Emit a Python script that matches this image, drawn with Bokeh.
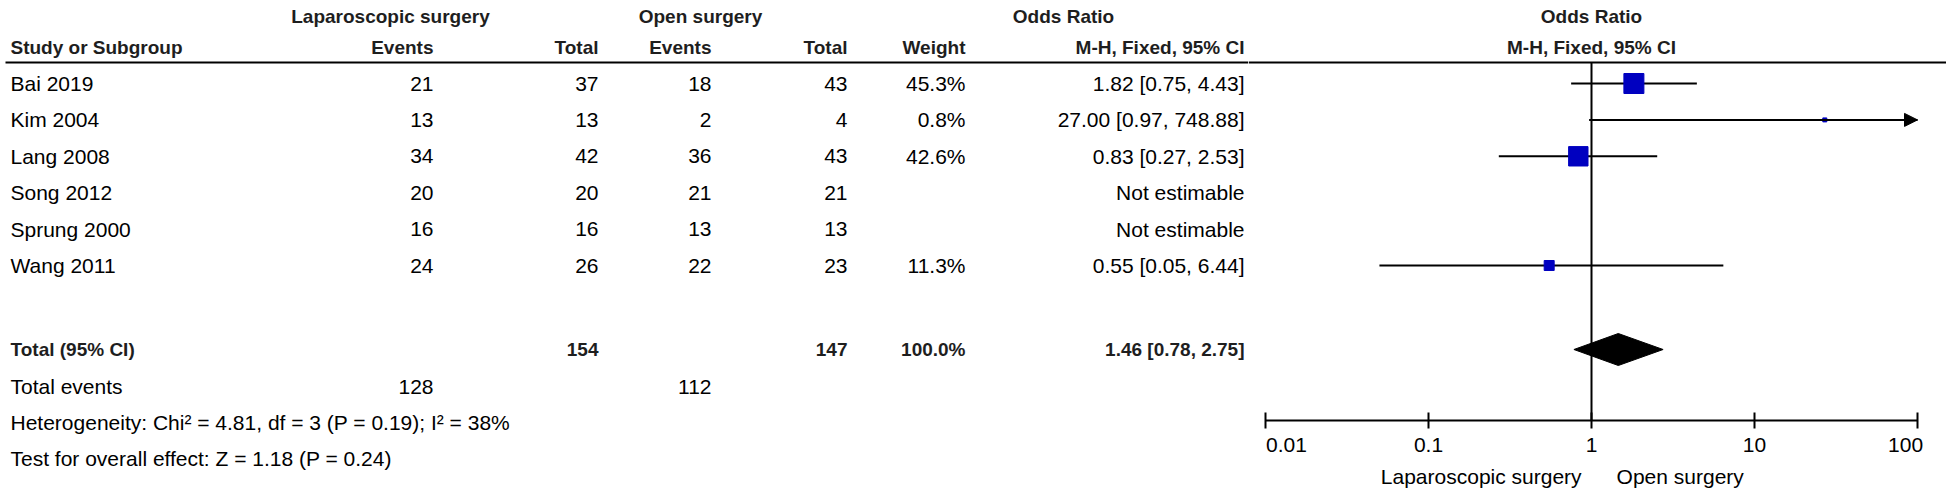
from bokeh.plotting import figure
from bokeh.layouts import row
from bokeh.models import Range1d, FixedTicker, Arrow, NormalHead, ColumnDataSource
from bokeh.core.properties import value
from bokeh.embed import file_html
from bokeh.resources import INLINE
import math

# ---------------- data ----------------
studies = ["Bai 2019", "Kim 2004", "Lang 2008", "Song 2012", "Sprung 2000", "Wang 2011"]
lap_events = [21, 13, 34, 20, 16, 24]
lap_total = [37, 13, 42, 20, 16, 26]
open_events = [18, 2, 36, 21, 13, 22]
open_total = [43, 4, 43, 21, 13, 23]
weights = [45.3, 0.8, 42.6, None, None, 11.3]
odds = [1.82, 27.00, 0.83, None, None, 0.55]
ci_low = [0.75, 0.97, 0.27, None, None, 0.05]
ci_high = [4.43, 748.88, 2.53, None, None, 6.44]

total_lap = 154
total_open = 147
total_weight = 100.0
total_or = 1.46
total_low = 0.78
total_high = 2.75
events_lap = 128
events_open = 112

heterogeneity = "Heterogeneity: Chi\u00b2 = 4.81, df = 3 (P = 0.19); I\u00b2 = 38%"
overall = "Test for overall effect: Z = 1.18 (P = 0.24)"
group1 = "Laparoscopic surgery"
group2 = "Open surgery"
tick_values = [0.01, 0.1, 1, 10, 100]
tick_labels = ["0.01", "0.1", "1", "10", "100"]

# ---------------- layout constants ----------------
FONT_NAME = "Liberation Sans"
FONT = value(FONT_NAME)
FS = "21px"
FSB = "19px"
TXT = "#000000"
HDR = "#1e1e1e"
W, H = 1946, 495
LEFT_W = 1248
RIGHT_W = W - LEFT_W
X_MIN, X_MAX = 0.01, 100

Y_H1, Y_H2, Y_LINE = 16, 47, 62
ROW0, STEP = 83, 36.4
Y_TOTAL, Y_EVENTS, Y_HET, Y_TEST = 349, 386, 422, 458
Y_AXIS = 420

COL_LAP_E, COL_LAP_T = 433, 598
COL_OPEN_E, COL_OPEN_T = 711, 847
COL_W, COL_OR = 965, 1244

row_y = [ROW0 + i * STEP for i in range(len(studies))]

# forest panel: OR = 1 sits at page x 1591, one decade spans 163 px
X_ONE, DEC = 1591, 163.0
lo = 10 ** (-(X_ONE - LEFT_W) / DEC)
hi = 10 ** ((W - X_ONE) / DEC)


def fmt_or(o, l, h):
    if o is None:
        return "Not estimable"
    return f"{o:.2f} [{l:.2f}, {h:.2f}]"


def txt(fig, xs, ys, texts, align="left", bold=False, color=TXT):
    fig.text(x=xs, y=ys, text=texts, text_font=FONT, text_font_size=FSB if bold else FS,
             text_align=align, text_baseline="middle",
             text_font_style="bold" if bold else "normal", text_color=color)


# ---------------- left: table ----------------
t = figure(width=LEFT_W, height=H, x_range=Range1d(0, LEFT_W), y_range=Range1d(H, 0),
           toolbar_location=None, output_backend="svg", min_border=0,
           x_axis_location=None, y_axis_location=None)
t.grid.visible = False
t.outline_line_color = None

txt(t, [390], [Y_H1], [group1], "center", True, HDR)
txt(t, [700], [Y_H1], [group2], "center", True, HDR)
txt(t, [1063], [Y_H1], ["Odds Ratio"], "center", True, HDR)
txt(t, [10], [Y_H2], ["Study or Subgroup"], "left", True, HDR)
txt(t, [COL_LAP_E, COL_LAP_T, COL_OPEN_E, COL_OPEN_T, COL_W, COL_OR], [Y_H2] * 6,
    ["Events", "Total", "Events", "Total", "Weight", "M-H, Fixed, 95% CI"], "right", True, HDR)
t.segment(x0=[5], y0=[Y_LINE], x1=[LEFT_W], y1=[Y_LINE], line_color="black", line_width=2)

n = len(studies)
txt(t, [10] * n, row_y, studies, "left")
txt(t, [COL_LAP_E] * n, row_y, [str(v) for v in lap_events], "right")
txt(t, [COL_LAP_T] * n, row_y, [str(v) for v in lap_total], "right")
txt(t, [COL_OPEN_E] * n, row_y, [str(v) for v in open_events], "right")
txt(t, [COL_OPEN_T] * n, row_y, [str(v) for v in open_total], "right")
txt(t, [COL_W] * n, row_y, ["" if w is None else f"{w:.1f}%" for w in weights], "right")
txt(t, [COL_OR] * n, row_y, [fmt_or(o, l, h) for o, l, h in zip(odds, ci_low, ci_high)], "right")

txt(t, [10], [Y_TOTAL], ["Total (95% CI)"], "left", True, HDR)
txt(t, [COL_LAP_T, COL_OPEN_T, COL_W, COL_OR], [Y_TOTAL] * 4,
    [str(total_lap), str(total_open), f"{total_weight:.1f}%", fmt_or(total_or, total_low, total_high)],
    "right", True, HDR)
txt(t, [10], [Y_EVENTS], ["Total events"], "left")
txt(t, [COL_LAP_E, COL_OPEN_E], [Y_EVENTS] * 2, [str(events_lap), str(events_open)], "right")
txt(t, [10], [Y_HET], [heterogeneity], "left")
txt(t, [10], [Y_TEST], [overall], "left")

# ---------------- right: forest plot ----------------
f = figure(width=RIGHT_W, height=H, x_axis_type="log", x_range=Range1d(lo, hi),
           y_range=Range1d(H, 0), toolbar_location=None, output_backend="svg",
           min_border=0, y_axis_location=None)
f.grid.visible = False
f.outline_line_color = None

txt(f, [1], [Y_H1], ["Odds Ratio"], "center", True, HDR)
txt(f, [1], [Y_H2], ["M-H, Fixed, 95% CI"], "center", True, HDR)
f.segment(x0=[lo], y0=[Y_LINE], x1=[hi], y1=[Y_LINE], line_color="black", line_width=2)
f.segment(x0=[1], y0=[Y_LINE], x1=[1], y1=[Y_AXIS], line_color="black", line_width=2)

est = [i for i, o in enumerate(odds) if o is not None]
seg = ColumnDataSource(dict(
    x0=[max(ci_low[i], X_MIN) for i in est],
    x1=[min(ci_high[i], X_MAX) for i in est],
    y=[row_y[i] for i in est],
))
f.segment(x0="x0", y0="y", x1="x1", y1="y", source=seg, line_color="black", line_width=2)
for i in est:
    if ci_high[i] > X_MAX:
        f.add_layout(Arrow(end=NormalHead(size=13, fill_color="black", line_color="black"),
                           x_start=ci_low[i], y_start=row_y[i], x_end=X_MAX, y_end=row_y[i],
                           line_color="black", line_width=2))

sq = ColumnDataSource(dict(
    x=[odds[i] for i in est],
    y=[row_y[i] for i in est],
    s=[max(20 * math.sqrt(weights[i] / 45.3), 4) for i in est],
))
f.scatter(x="x", y="y", size="s", marker="square", source=sq,
          fill_color="#0000c0", line_color="#0000c0")

DH = 16
f.patch(x=[total_low, total_or, total_high, total_or],
        y=[Y_TOTAL, Y_TOTAL - DH, Y_TOTAL, Y_TOTAL + DH],
        fill_color="black", line_color="black")

ax = f.xaxis[0]
ax.fixed_location = Y_AXIS
ax.bounds = (X_MIN, X_MAX)
ax.ticker = FixedTicker(ticks=tick_values, minor_ticks=[])
ax.major_label_overrides = {
    tick_values[0]: "\u00a0" * 3 + tick_labels[0],
    tick_values[1]: tick_labels[1],
    tick_values[2]: tick_labels[2],
    tick_values[3]: tick_labels[3],
    tick_values[4]: tick_labels[4] + "\u00a0" * 4,
}
ax.axis_line_width = 2
ax.axis_line_color = "black"
ax.major_tick_line_width = 2
ax.major_tick_line_color = "black"
ax.major_tick_in = 8
ax.major_tick_out = 8
ax.minor_tick_line_color = None
ax.major_label_standoff = 4
ax.major_label_text_font = FONT_NAME
ax.major_label_text_font_size = FS
ax.major_label_text_color = TXT
ax.axis_label = group1 + "\u00a0" * 6 + group2 + "\u00a0" * 10
ax.axis_label_standoff = 6
ax.axis_label_text_font = FONT_NAME
ax.axis_label_text_font_size = FS
ax.axis_label_text_font_style = "normal"
ax.axis_label_text_color = TXT

layout = row(t, f)
open("out.html", "w").write(file_html(layout, INLINE))
